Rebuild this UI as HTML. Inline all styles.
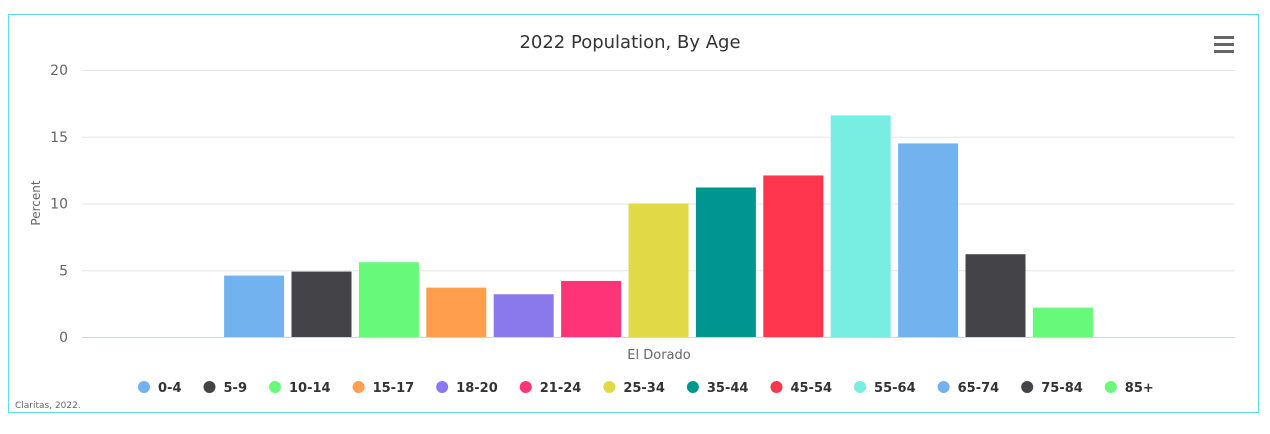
<!DOCTYPE html>
<html><head><meta charset="utf-8"><style>
body{margin:0;background:#fff;font-family:"DejaVu Sans","Liberation Sans",sans-serif}
svg text{font-family:"DejaVu Sans","Liberation Sans",sans-serif}
</style></head><body>
<svg id="c" width="1270" height="430">
<rect x="8.5" y="14.5" width="1250" height="398" fill="#fff" stroke="#5ce1e6"/>
<text x="630" y="48" text-anchor="middle" font-size="18" fill="#333">2022 Population, By Age</text>
<g fill="#666">
<rect x="1214" y="36" width="20" height="3"/><rect x="1214" y="43" width="20" height="3"/><rect x="1214" y="50" width="20" height="3"/>
</g>
<text x="40" y="203" transform="rotate(-90 40 203)" text-anchor="middle" font-size="12" fill="#666">Percent</text>
<text x="659" y="359" text-anchor="middle" font-size="13" fill="#666">El Dorado</text>
<text x="15" y="408" font-size="9" fill="#666">Claritas, 2022.</text>
<g id="grid"></g><g id="bars"></g><g id="legend"></g>
</svg>
<script>
const categories=["0-4","5-9","10-14","15-17","18-20","21-24","25-34","35-44","45-54","55-64","65-74","75-84","85+"];
const values=[4.6,4.9,5.6,3.7,3.2,4.2,10.0,11.2,12.1,16.6,14.5,6.2,2.2];
const colors=["#72b2ef","#434348","#66f97a","#ff9f4e","#8a79ed","#ff3478","#e1d945","#009690","#ff364e","#77eee1","#72b2ef","#434348","#66f97a"];
const yTicks=[0,5,10,15,20];
const NS="http://www.w3.org/2000/svg";
const y0=337,y1=70,yMax=20;
const y=v=>y0-(v/yMax)*(y0-y1);
const step=67.4,bw=60,cx=658.5;
const x=i=>cx+(i-(categories.length-1)/2)*step-bw/2;
function mk(t,a,p){const e=document.createElementNS(NS,t);for(const k in a)e.setAttribute(k,a[k]);p.appendChild(e);return e;}
const g=document.getElementById('grid');
yTicks.forEach(t=>{
 const l=mk('line',{x1:82,x2:1235,y1:y(t)+0.5,y2:y(t)+0.5,stroke:t===0?'#ccd6eb':'#e6e6e6'},g);
 
 
 const tx=mk('text',{x:68,y:y(t)+5,'text-anchor':'end','font-size':14,fill:'#666'},g);
 tx.textContent=t;
 
 
});
const b=document.getElementById('bars');
values.forEach((v,i)=>{
 const r=mk('rect',{x:x(i),y:y(v),width:bw,height:y0-y(v),fill:colors[i]},b);
 
 
});
const lg=document.getElementById('legend');
let lx=144;
categories.forEach((c,i)=>{
 const gi=mk('g',{},lg);
 
 
 mk('circle',{cx:lx,cy:387,r:6,fill:colors[i]},gi);
 const t=mk('text',{x:lx+14,y:392,'font-size':13,'font-weight':'bold',fill:'#333'},gi);
 t.textContent=c;
 lx+=14+t.getComputedTextLength()+28;
});
</script>
</body></html>
